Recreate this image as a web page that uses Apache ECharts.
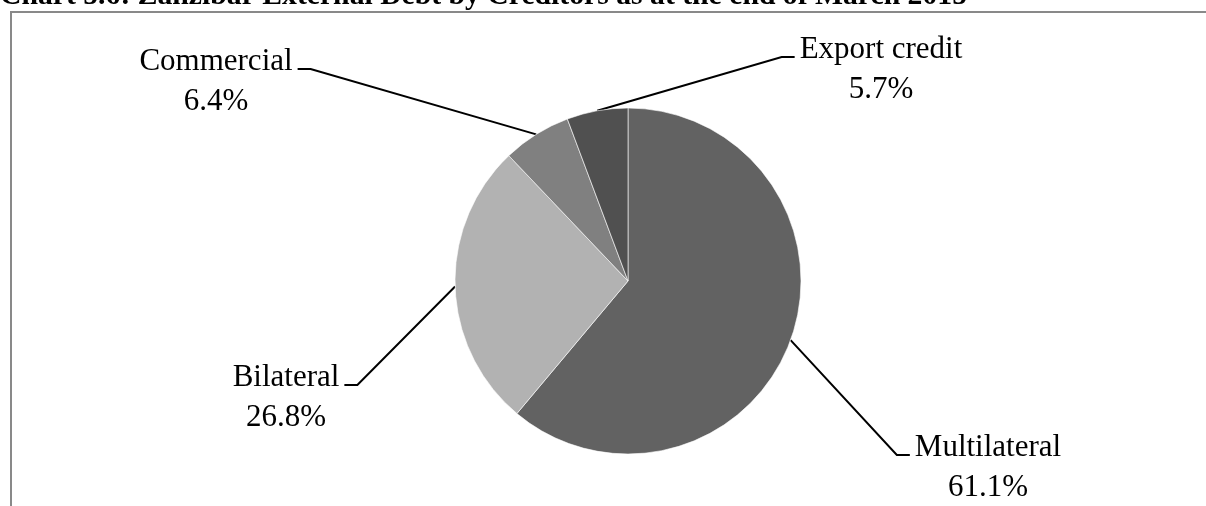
<!DOCTYPE html>
<html>
<head>
<meta charset="utf-8">
<script src="https://cdn.jsdelivr.net/npm/echarts@6/dist/echarts.min.js"></script>
<style>
  html, body { margin: 0; padding: 0; background: #fff; }
  #chart { width: 1206px; height: 506px; }
</style>
</head>
<body>
<div id="chart"></div>
<script>
// ---- data ----
const categories = ['Multilateral', 'Bilateral', 'Commercial', 'Export credit'];
const shares = [61.1, 26.8, 6.4, 5.7];
const sliceColors = ['#626262', '#b2b2b2', '#808080', '#505050'];
const titleText = 'Chart 5.6: Zanzibar External Debt by Creditors as at the end of March 2015';

// ---- label placement (layout, not data) ----
const labelAnchors = {
  'Multilateral':  { cx: 988, top: 428 },
  'Bilateral':     { cx: 286, top: 358 },
  'Commercial':    { cx: 216, top: 42 },
  'Export credit': { cx: 881, top: 30 }
};
const pieCenter = [628, 281];
const pieRadius = 173;
const FONT = '"Liberation Serif", "Times New Roman", serif';

const chart = echarts.init(document.getElementById('chart'));

chart.setOption({
  animation: false,
  backgroundColor: '#fff',
  title: {
    text: titleText,
    left: 0,
    top: -19,
    padding: 0,
    textStyle: { fontFamily: FONT, fontWeight: 'bold', fontSize: 29.7, color: '#000' }
  },
  graphic: [{
    type: 'rect',
    silent: true,
    shape: { x: 11, y: 12, width: 1400, height: 700 },
    style: { fill: 'none', stroke: '#898989', lineWidth: 2 }
  }],
  series: [{
    type: 'pie',
    center: pieCenter,
    radius: pieRadius,
    startAngle: 90,
    clockwise: true,
    avoidLabelOverlap: false,
    data: categories.map((c, i) => ({ name: c, value: shares[i], itemStyle: { color: sliceColors[i] } })),
    itemStyle: { borderColor: '#ffffff', borderWidth: 0.6 },
    label: {
      show: true,
      position: 'outside',
      formatter: p => p.name + '\n' + p.value.toFixed(1) + '%',
      fontFamily: FONT,
      fontSize: 31,
      lineHeight: 40,
      color: '#000',
      align: 'center'
    },
    labelLine: {
      show: true,
      length: 20,
      length2: 15,
      lineStyle: { color: '#000', width: 2 }
    },
    labelLayout: function (params) {
      const name = categories[params.dataIndex];
      const a = labelAnchors[name];
      const w = params.labelRect.width;
      const start = params.labelLinePoints ? params.labelLinePoints[0] : null;
      const lineY = a.top + 27;
      let pts = null;
      if (start) {
        if (a.cx < pieCenter[0]) {
          const right = a.cx + w / 2;
          pts = [start, [right + 18, lineY], [right + 5, lineY]];
        } else {
          const left = a.cx - w / 2;
          pts = [start, [left - 18, lineY], [left - 5, lineY]];
        }
      }
      const out = { x: a.cx, y: a.top, align: 'center', verticalAlign: 'top' };
      if (pts) out.labelLinePoints = pts;
      return out;
    }
  }]
});
</script>
</body>
</html>
